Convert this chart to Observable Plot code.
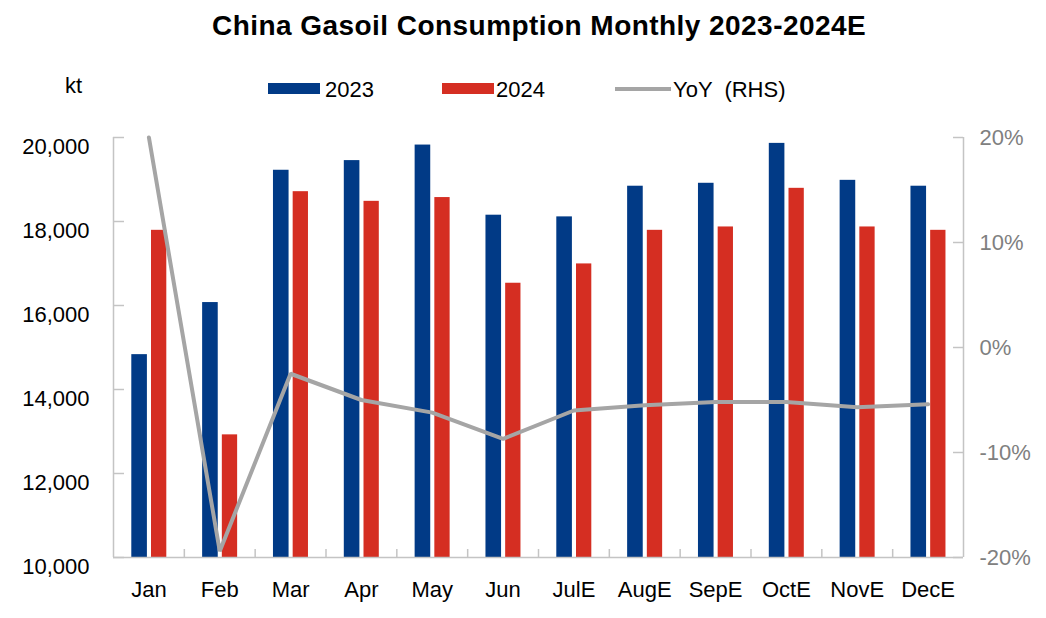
<!DOCTYPE html>
<html>
<head>
<meta charset="utf-8">
<script src="https://cdn.jsdelivr.net/npm/d3@7"></script>
<script src="https://cdn.jsdelivr.net/npm/@observablehq/plot@0.6"></script>
<style>
  html, body { margin: 0; padding: 0; background: #fff; }
  #wrap { position: relative; width: 1046px; height: 618px; font-family: "Liberation Sans", Arial, sans-serif; color: #000; }
  #wrap svg { position: absolute; left: 0; top: 0; }
  .t { position: absolute; line-height: 22px; font-size: 22px; white-space: pre; }
  #title { position: absolute; left: 212px; top: 12px; font-size: 28px; line-height: 28px; font-weight: bold; white-space: pre; letter-spacing: 0.45px; }
  .sw { position: absolute; }
</style>
</head>
<body>
<div id="wrap">
  <div id="chart"></div>
  <div id="title">China Gasoil Consumption Monthly 2023-2024E</div>
  <div class="t" style="left:65px; top:75px;">kt</div>
  <div class="sw" style="left:268px; top:83px; width:52px; height:11px; background:#013A86;"></div>
  <div class="t" style="left:325px; top:79px;">2023</div>
  <div class="sw" style="left:442px; top:83px; width:52px; height:11px; background:#D52E22;"></div>
  <div class="t" style="left:496px; top:79px;">2024</div>
  <div class="sw" style="left:615px; top:87px; width:56px; height:4px; background:#a5a5a5;"></div>
  <div class="t" style="left:673px; top:79px;">YoY  (RHS)</div>
</div>
<script>
const months = ["Jan","Feb","Mar","Apr","May","Jun","JulE","AugE","SepE","OctE","NovE","DecE"];
const v2023 = [14830,16070,19220,19450,19820,18150,18110,18840,18910,19860,18980,18840];
const v2024 = [17790,12920,18710,18480,18570,16530,16990,17790,17870,18790,17870,17790];
const yoy   = [20.0,-19.4,-2.5,-5.0,-6.2,-8.7,-6.0,-5.5,-5.2,-5.2,-5.7,-5.4];
const leftTicks = [10000,12000,14000,16000,18000,20000];
const rightTicks = [-20,-10,0,10,20];

const yMin = 10000, yMax = 20000, pMin = -20, pMax = 20;
// map the right-hand (percent) axis onto the left scale
const toLeft = p => yMin + (p - pMin) * (yMax - yMin) / (pMax - pMin);
const fromLeft = v => pMin + (v - yMin) * (pMax - pMin) / (yMax - yMin);

const rows = months.map((m, i) => ({month: m, a: v2023[i], b: v2024[i], yoy: yoy[i]}));

const W = 1046, H = 618, mL = 113, mR = 83, mT = 137, mB = 61;
const bw = (W - mL - mR) / months.length;
const axisColor = "#c4c4c4";

const chart = Plot.plot({
  width: W, height: H,
  marginLeft: mL, marginRight: mR, marginTop: mT, marginBottom: mB,
  style: {fontFamily: '"Liberation Sans", Arial, sans-serif', background: "transparent"},
  x: {domain: months, padding: 0, round: false, axis: null},
  y: {domain: [yMin, yMax], axis: null},
  marks: [
    Plot.barY(rows, {x: "month", y1: () => yMin, y2: "a", fill: "#013A86", insetLeft: 18.3, insetRight: bw - 33.9}),
    Plot.barY(rows, {x: "month", y1: () => yMin, y2: "b", fill: "#D52E22", insetLeft: 38, insetRight: bw - 53.3}),
    Plot.line(rows, {x: "month", y: d => toLeft(d.yoy), stroke: "#a5a5a5", strokeWidth: 4, strokeLinejoin: "miter"}),
    // axis lines
    Plot.ruleY([yMin], {stroke: axisColor, strokeWidth: 1.5}),
    Plot.ruleX([months[0]], {x: d => d, dx: -bw / 2, stroke: axisColor, strokeWidth: 1.5}),
    Plot.ruleX([months[months.length - 1]], {x: d => d, dx: bw / 2, stroke: axisColor, strokeWidth: 1.5}),
    // inward ticks
    Plot.tickY(leftTicks, {y: d => d, stroke: axisColor, strokeWidth: 1.5, insetRight: (W - mL - mR) - 11}),
    Plot.tickY(rightTicks, {y: d => toLeft(d), stroke: axisColor, strokeWidth: 1.5, insetLeft: (W - mL - mR) - 10}),
    Plot.ruleX(months.slice(1), {x: d => d, dx: -bw / 2, stroke: axisColor, strokeWidth: 1.5, insetTop: (H - mT - mB) - 8}),
    // labels
    Plot.axisY(leftTicks, {anchor: "left", tickSize: 0, tickPadding: 24, dy: 9, fontSize: 22, fill: "#000", tickFormat: d3.format(","), label: null}),
    Plot.axisY(rightTicks.map(toLeft), {anchor: "right", tickSize: 0, tickPadding: 16, fontSize: 22, fill: "#808080", tickFormat: d => Math.round(fromLeft(d)) + "%", label: null}),
    Plot.axisX({anchor: "bottom", tickSize: 0, tickPadding: 24, fontSize: 22, fill: "#000", label: null})
  ]
});
document.getElementById("chart").appendChild(chart);
</script>
</body>
</html>
